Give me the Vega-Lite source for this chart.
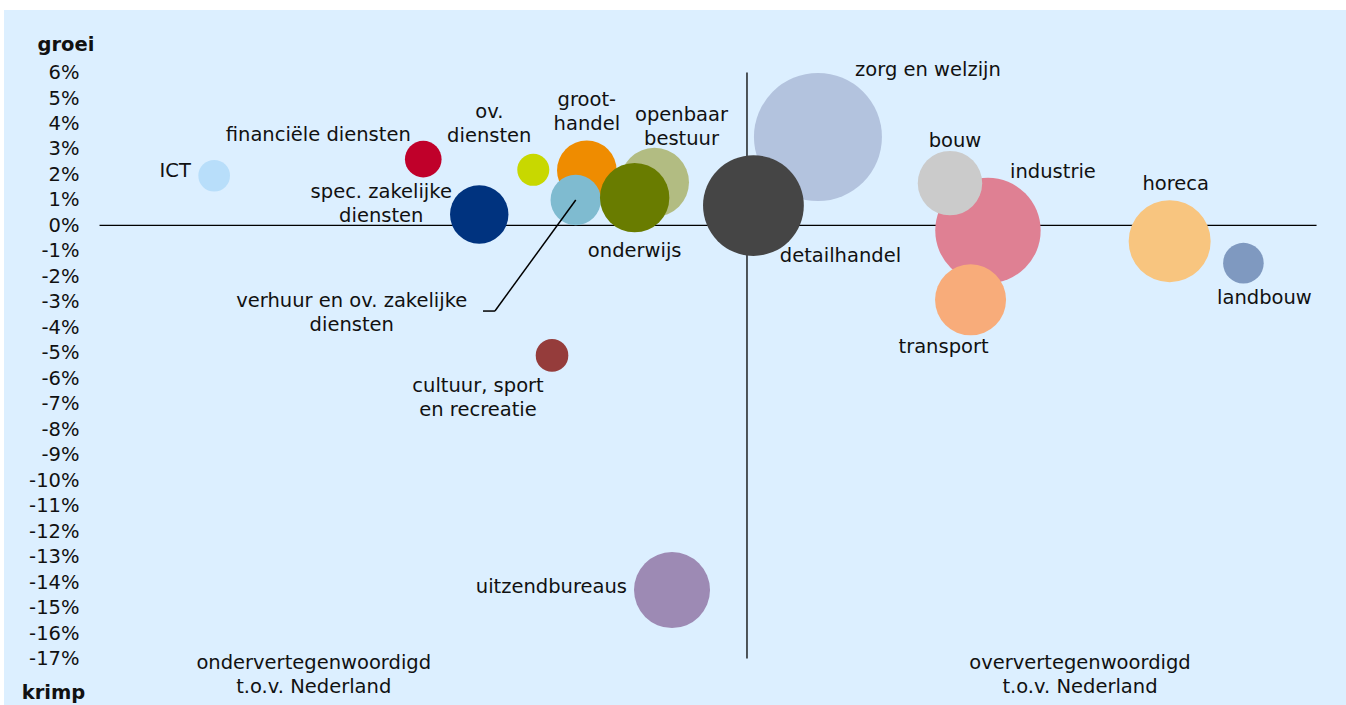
{
  "$schema": "https://vega.github.io/schema/vega-lite/v6.json",
  "width": 1342,
  "height": 695,
  "padding": {"left": 4, "top": 10, "right": 0, "bottom": 0},
  "autosize": {"type": "none"},
  "background": "#ffffff",
  "config": {
    "view": {"stroke": null, "fill": "#dcefff"},
    "font": "DejaVu Sans",
    "axisY": {"labelOverlap": false, "labelBound": false, "labelFlush": false, "ticks": false, "domain": false, "grid": false, "labelPadding": 0, "labelFontSize": 19.5, "labelFont": "DejaVu Sans", "labelColor": "#111111"},
    "text": {"font": "DejaVu Sans", "fontSize": 19.5, "color": "#111111", "baseline": "middle", "align": "center", "lineBreak": "\n", "lineHeight": 24}
  },
  "data": {
    "values": [
      {"sector": "ICT", "label": "ICT", "x": -43.78, "groei": 1.95, "omvang": 250},
      {"sector": "financiële diensten", "label": "financiële diensten", "x": -26.6, "groei": 2.6, "omvang": 335},
      {"sector": "spec. zakelijke diensten", "label": "spec. zakelijke\ndiensten", "x": -22.0, "groei": 0.43, "omvang": 853},
      {"sector": "ov. diensten", "label": "ov.\ndiensten", "x": -17.56, "groei": 2.18, "omvang": 256},
      {"sector": "groothandel", "label": "groot-\nhandel", "x": -13.16, "groei": 2.16, "omvang": 888},
      {"sector": "verhuur en ov. zakelijke diensten", "label": "verhuur en ov. zakelijke\ndiensten", "x": -14.07, "groei": 1.0, "omvang": 635},
      {"sector": "openbaar bestuur", "label": "openbaar\nbestuur", "x": -7.6, "groei": 1.69, "omvang": 1190},
      {"sector": "onderwijs", "label": "onderwijs", "x": -9.23, "groei": 1.09, "omvang": 1204},
      {"sector": "zorg en welzijn", "label": "zorg en welzijn", "x": 5.83, "groei": 3.47, "omvang": 4096},
      {"sector": "detailhandel", "label": "detailhandel", "x": 0.53, "groei": 0.78, "omvang": 2540},
      {"sector": "industrie", "label": "industrie", "x": 19.8, "groei": -0.2, "omvang": 2777},
      {"sector": "bouw", "label": "bouw", "x": 16.68, "groei": 1.66, "omvang": 1037},
      {"sector": "transport", "label": "transport", "x": 18.37, "groei": -2.92, "omvang": 1260},
      {"sector": "horeca", "label": "horeca", "x": 34.73, "groei": -0.62, "omvang": 1681},
      {"sector": "landbouw", "label": "landbouw", "x": 40.79, "groei": -1.48, "omvang": 412},
      {"sector": "uitzendbureaus", "label": "uitzendbureaus", "x": -6.16, "groei": -14.31, "omvang": 1444},
      {"sector": "cultuur, sport en recreatie", "label": "cultuur, sport\nen recreatie", "x": -16.02, "groei": -5.1, "omvang": 266}
    ]
  },
  "encoding": {
    "x": {"field": "x", "type": "quantitative", "scale": {"domain": [-61.05, 49.22], "nice": false, "zero": false}, "axis": null},
    "y": {"field": "groei", "type": "quantitative", "scale": {"domain": [-18.82, 8.454], "nice": false, "zero": false},
      "axis": {"values": [-17,-16,-15,-14,-13,-12,-11,-10,-9,-8,-7,-6,-5,-4,-3,-2,-1,0,1,2,3,4,5,6], "labelExpr": "datum.value + '%'", "offset": -75, "ticks": false, "domain": false, "grid": false, "labelPadding": 0, "title": null, "labelOverlap": false}}
  },
  "layer": [
    {
      "data": {"values": [
        {"lijn": "nullijn", "x": -53.2, "x_eind": 46.8, "groei": 0, "groei_eind": 0},
        {"lijn": "middenlijn", "x": 0, "x_eind": 0, "groei": 6, "groei_eind": -17}
      ]},
      "mark": {"type": "rule", "color": "#000000", "strokeWidth": 1.3},
      "encoding": {"x2": {"field": "x_eind"}, "y2": {"field": "groei_eind"}}
    },
    {
      "mark": {"type": "circle", "opacity": 1, "strokeWidth": 0},
      "encoding": {
        "size": {"field": "omvang", "type": "quantitative", "scale": {"type": "linear", "domain": [0, 4096], "range": [0, 16384], "zero": true}, "legend": null},
        "color": {"field": "sector", "type": "nominal", "legend": null,
          "scale": {
            "domain": ["ICT","financiële diensten","spec. zakelijke diensten","ov. diensten","groothandel","verhuur en ov. zakelijke diensten","openbaar bestuur","onderwijs","zorg en welzijn","detailhandel","industrie","bouw","transport","horeca","landbouw","uitzendbureaus","cultuur, sport en recreatie"],
            "range": ["#b8defa","#c0002a","#00337f","#c8d800","#ef8c00","#7fbbd0","#b2bc82","#697c00","#b3c3de","#454545","#df8093","#cbcbcb","#f8ac7a","#f8c57f","#7f99c0","#9d8ab4","#953c3b"]
          }}
      }
    },
    {
      "data": {"values": [
        {"lijn": "verwijzing 1", "x": -14.07, "x_eind": -20.71, "groei": 1.0, "groei_eind": -3.36},
        {"lijn": "verwijzing 2", "x": -20.71, "x_eind": -21.69, "groei": -3.36, "groei_eind": -3.36}
      ]},
      "mark": {"type": "rule", "color": "#000000", "strokeWidth": 1.5},
      "encoding": {"x2": {"field": "x_eind"}, "y2": {"field": "groei_eind"}}
    },
    {"transform": [{"filter": "datum.sector == 'ICT'"}], "mark": {"type": "text", "dx": -39, "dy": -5}, "encoding": {"text": {"field": "label"}}},
    {"transform": [{"filter": "datum.sector == 'financiële diensten'"}], "mark": {"type": "text", "dx": -105, "dy": -24}, "encoding": {"text": {"field": "label"}}},
    {"transform": [{"filter": "datum.sector == 'spec. zakelijke diensten'"}], "mark": {"type": "text", "dx": -98, "dy": -22}, "encoding": {"text": {"field": "label"}}},
    {"transform": [{"filter": "datum.sector == 'ov. diensten'"}], "mark": {"type": "text", "dx": -44, "dy": -58}, "encoding": {"text": {"field": "label"}}},
    {"transform": [{"filter": "datum.sector == 'groothandel'"}], "mark": {"type": "text", "dx": 0, "dy": -70}, "encoding": {"text": {"field": "label"}}},
    {"transform": [{"filter": "datum.sector == 'verhuur en ov. zakelijke diensten'"}], "mark": {"type": "text", "dx": -224, "dy": 101}, "encoding": {"text": {"field": "label"}}},
    {"transform": [{"filter": "datum.sector == 'openbaar bestuur'"}], "mark": {"type": "text", "dx": 27, "dy": -67}, "encoding": {"text": {"field": "label"}}},
    {"transform": [{"filter": "datum.sector == 'onderwijs'"}], "mark": {"type": "text", "dx": 0, "dy": 53}, "encoding": {"text": {"field": "label"}}},
    {"transform": [{"filter": "datum.sector == 'zorg en welzijn'"}], "mark": {"type": "text", "dx": 110, "dy": -67}, "encoding": {"text": {"field": "label"}}},
    {"transform": [{"filter": "datum.sector == 'detailhandel'"}], "mark": {"type": "text", "dx": 87, "dy": 50}, "encoding": {"text": {"field": "label"}}},
    {"transform": [{"filter": "datum.sector == 'industrie'"}], "mark": {"type": "text", "dx": 65, "dy": -59}, "encoding": {"text": {"field": "label"}}},
    {"transform": [{"filter": "datum.sector == 'bouw'"}], "mark": {"type": "text", "dx": 5, "dy": -42}, "encoding": {"text": {"field": "label"}}},
    {"transform": [{"filter": "datum.sector == 'transport'"}], "mark": {"type": "text", "dx": -27, "dy": 47}, "encoding": {"text": {"field": "label"}}},
    {"transform": [{"filter": "datum.sector == 'horeca'"}], "mark": {"type": "text", "dx": 6, "dy": -57}, "encoding": {"text": {"field": "label"}}},
    {"transform": [{"filter": "datum.sector == 'landbouw'"}], "mark": {"type": "text", "dx": 21, "dy": 35}, "encoding": {"text": {"field": "label"}}},
    {"transform": [{"filter": "datum.sector == 'uitzendbureaus'"}], "mark": {"type": "text", "align": "right", "dx": -45, "dy": -3}, "encoding": {"text": {"field": "label"}}},
    {"transform": [{"filter": "datum.sector == 'cultuur, sport en recreatie'"}], "mark": {"type": "text", "dx": -74, "dy": 31}, "encoding": {"text": {"field": "label"}}},
    {
      "data": {"values": [
        {"label": "groei", "x": -55.96, "groei": 7.08},
        {"label": "krimp", "x": -56.98, "groei": -18.35}
      ]},
      "mark": {"type": "text", "fontWeight": "bold"},
      "encoding": {"text": {"field": "label"}}
    },
    {
      "data": {"values": [
        {"label": "ondervertegenwoordigd\nt.o.v. Nederland", "x": -35.6, "groei": -17.17},
        {"label": "oververtegenwoordigd\nt.o.v. Nederland", "x": 27.36, "groei": -17.17}
      ]},
      "mark": {"type": "text"},
      "encoding": {"text": {"field": "label"}}
    }
  ]
}
